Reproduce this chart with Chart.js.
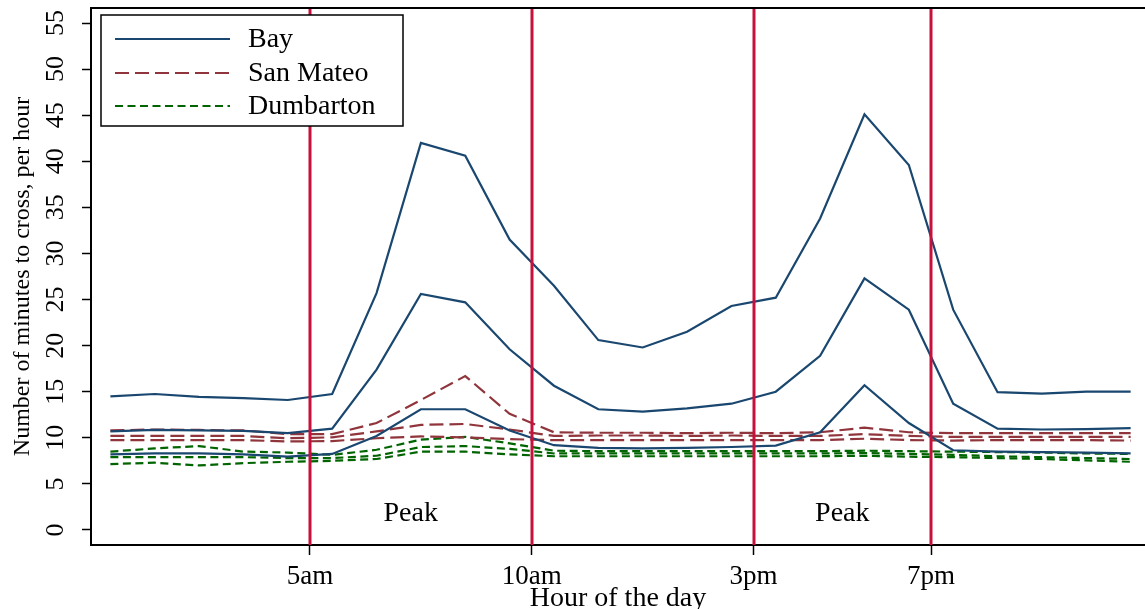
<!DOCTYPE html>
<html>
<head>
<meta charset="utf-8">
<script src="https://cdn.jsdelivr.net/npm/chart.js@4.4.1/dist/chart.umd.min.js"></script>
<style>
  html, body { margin: 0; padding: 0; background: #fff; }
  #contenedor { width: 1145px; height: 609px; }
</style>
</head>
<body>
<div id="contenedor"><canvas id="graficoCruce" width="1145" height="609"></canvas></div>
<script>
// Hora del día (mitad de cada franja horaria)
const horas = [0.5, 1.5, 2.5, 3.5, 4.5, 5.5, 6.5, 7.5, 8.5, 9.5, 10.5, 11.5,
               12.5, 13.5, 14.5, 15.5, 16.5, 17.5, 18.5, 19.5, 20.5, 21.5, 22.5, 23.5];

// Minutos para cruzar, por hora: tres curvas por puente
const bayAlto   = [14.5, 14.75, 14.45, 14.3, 14.1, 14.75, 25.7, 42.0, 40.6, 31.5, 26.5, 20.6,
                   19.8, 21.5, 24.3, 25.2, 33.8, 45.1, 39.6, 23.9, 14.95, 14.8, 15.0, 15.0];
const bayMedio  = [10.7, 10.85, 10.8, 10.75, 10.5, 11.0, 17.4, 25.6, 24.7, 19.6, 15.65, 13.1,
                   12.85, 13.2, 13.7, 15.0, 18.9, 27.3, 23.9, 13.7, 11.0, 10.9, 10.95, 11.05];
const bayBajo   = [8.2, 8.3, 8.3, 8.2, 7.95, 8.25, 10.2, 13.1, 13.1, 10.8, 9.2, 8.9,
                   8.85, 8.9, 9.0, 9.15, 10.6, 15.7, 11.6, 8.65, 8.5, 8.45, 8.4, 8.3];
const smAlto    = [10.8, 10.9, 10.85, 10.8, 10.4, 10.4, 11.6, 14.1, 16.7, 12.6, 10.6, 10.55,
                   10.55, 10.5, 10.55, 10.5, 10.6, 11.1, 10.6, 10.5, 10.5, 10.5, 10.5, 10.5];
const smMedio   = [10.2, 10.2, 10.2, 10.2, 9.95, 10.05, 10.7, 11.4, 11.5, 10.9, 10.2, 10.25,
                   10.25, 10.2, 10.25, 10.2, 10.2, 10.4, 10.2, 10.1, 10.1, 10.1, 10.1, 10.1];
const smBajo    = [9.75, 9.75, 9.75, 9.75, 9.6, 9.65, 9.95, 10.15, 10.05, 9.85, 9.75, 9.75,
                   9.75, 9.75, 9.75, 9.75, 9.75, 9.9, 9.75, 9.7, 9.75, 9.75, 9.75, 9.7];
const dbAlto    = [8.5, 8.85, 9.1, 8.5, 8.4, 8.15, 8.7, 9.8, 10.1, 9.4, 8.6, 8.55,
                   8.55, 8.55, 8.55, 8.55, 8.55, 8.6, 8.55, 8.5, 8.45, 8.4, 8.3, 8.25];
const dbMedio   = [7.9, 7.9, 7.9, 7.9, 7.8, 7.8, 8.05, 9.0, 9.1, 8.8, 8.3, 8.3,
                   8.3, 8.3, 8.3, 8.3, 8.3, 8.35, 8.25, 8.15, 8.0, 7.9, 7.8, 7.7];
const dbBajo    = [7.15, 7.3, 7.0, 7.25, 7.4, 7.5, 7.7, 8.5, 8.5, 8.2, 8.0, 8.0,
                   8.0, 8.0, 8.0, 8.0, 8.0, 8.05, 7.95, 7.9, 7.8, 7.7, 7.55, 7.4];

// Ejes, marcas y rótulos
const puentes = ['Bay', 'San Mateo', 'Dumbarton'];
const marcasX = [5, 10, 15, 19];
const etiquetasX = ['5am', '10am', '3pm', '7pm'];
const marcasY = [0, 5, 10, 15, 20, 25, 30, 35, 40, 45, 50, 55];
const limitesPico = [5, 10, 15, 19];
const textoPico = ['Peak', 'Peak'];
const posicionPicoX = [7.27, 17.0];
const posicionPicoY = 1.8;

const FUENTE = '"Liberation Serif", "Times New Roman", Times, serif';

// Estilo de línea para cada puente
const estilos = {
    'Bay':       { color: '#1a476f', guiones: [] },
    'San Mateo': { color: '#90353b', guiones: [14, 6] },
    'Dumbarton': { color: '#006400', guiones: [8, 4.5] }
};

function serie(puente, valores) {
    const e = estilos[puente];
    return {
        label: puente,
        data: horas.map((h, i) => ({ x: h, y: valores[i] })),
        borderColor: e.color,
        borderWidth: 2.2,
        borderDash: e.guiones,
        pointRadius: 0,
        tension: 0,
        fill: false
    };
}

// Líneas rojas de la franja punta, rótulos "Peak" y borde superior
const capaReferencia = {
    id: 'capaReferencia',
    afterDatasetsDraw(chart) {
        const { ctx, chartArea, scales: { x, y } } = chart;
        ctx.save();
        ctx.strokeStyle = '#c8103c';
        ctx.lineWidth = 3;
        limitesPico.forEach(v => {
            const px = Math.round(x.getPixelForValue(v));
            ctx.beginPath();
            ctx.moveTo(px, chartArea.top);
            ctx.lineTo(px, chartArea.bottom);
            ctx.stroke();
        });
        ctx.strokeStyle = '#000';
        ctx.lineWidth = 2;
        ctx.beginPath();
        ctx.moveTo(chartArea.left, chartArea.top);
        ctx.lineTo(chartArea.right, chartArea.top);
        ctx.stroke();

        ctx.fillStyle = '#000';
        ctx.font = '28px ' + FUENTE;
        ctx.textAlign = 'center';
        ctx.textBaseline = 'middle';
        textoPico.forEach((t, i) => {
            ctx.fillText(t, x.getPixelForValue(posicionPicoX[i]), y.getPixelForValue(posicionPicoY));
        });
        ctx.restore();
    },
    afterDraw(chart) {
        // Leyenda dentro del área del gráfico, con recuadro
        const { ctx } = chart;
        ctx.save();
        ctx.fillStyle = '#fff';
        ctx.fillRect(101, 15, 302, 111);
        ctx.strokeStyle = '#000';
        ctx.lineWidth = 1.5;
        ctx.strokeRect(101, 15, 302, 111);
        const filas = [39, 73, 106];
        puentes.forEach((p, i) => {
            const e = estilos[p];
            ctx.strokeStyle = e.color;
            ctx.lineWidth = 2.2;
            ctx.setLineDash(e.guiones);
            ctx.beginPath();
            ctx.moveTo(115, filas[i]);
            ctx.lineTo(230, filas[i]);
            ctx.stroke();
            ctx.setLineDash([]);
            ctx.fillStyle = '#000';
            ctx.font = '28px ' + FUENTE;
            ctx.textAlign = 'left';
            ctx.textBaseline = 'middle';
            ctx.fillText(p, 248, filas[i] + 1);
        });
        ctx.restore();
    }
};

const grafico = new Chart(document.getElementById('graficoCruce'), {
    type: 'line',
    data: {
        datasets: [
            serie('Bay', bayAlto), serie('Bay', bayMedio), serie('Bay', bayBajo),
            serie('San Mateo', smAlto), serie('San Mateo', smMedio), serie('San Mateo', smBajo),
            serie('Dumbarton', dbAlto), serie('Dumbarton', dbMedio), serie('Dumbarton', dbBajo)
        ]
    },
    options: {
        responsive: false,
        animation: false,
        layout: { padding: { top: 8, left: 0, right: 0, bottom: 0 } },
        plugins: { legend: { display: false }, tooltip: { enabled: false } },
        scales: {
            x: {
                type: 'linear',
                min: 0.063,
                max: 23.824,
                afterBuildTicks: s => { s.ticks = marcasX.map(v => ({ value: v })); },
                afterFit: s => { s.height = 64; s.paddingLeft = 0; s.paddingRight = 0; },
                border: { display: true, color: '#000', width: 2 },
                grid: { display: true, drawOnChartArea: false, drawTicks: true, tickLength: 10, tickWidth: 1.5, tickColor: '#000' },
                ticks: {
                    autoSkip: false, maxRotation: 0, padding: 6, color: '#000',
                    font: { family: FUENTE, size: 27 },
                    callback: (v, i) => etiquetasX[i]
                },
                title: {
                    display: true, text: 'Hour of the day', color: '#000',
                    font: { family: FUENTE, size: 28, lineHeight: 0.72 },
                    padding: { top: 0, bottom: 0 }
                }
            },
            y: {
                type: 'linear',
                min: -1.63,
                max: 56.63,
                afterBuildTicks: s => { s.ticks = marcasY.map(v => ({ value: v })); },
                afterFit: s => { s.width = 91; s.paddingTop = 0; s.paddingBottom = 0; },
                border: { display: true, color: '#000', width: 2 },
                grid: { display: true, drawOnChartArea: false, drawTicks: true, tickLength: 9, tickWidth: 1.5, tickColor: '#000' },
                ticks: {
                    minRotation: 90, maxRotation: 90, crossAlign: 'center', padding: 13, color: '#000',
                    font: { family: FUENTE, size: 26 }
                },
                title: {
                    display: true, text: 'Number of minutes to cross, per hour', color: '#000',
                    font: { family: FUENTE, size: 24 },
                    padding: { top: 8, bottom: 0 }
                }
            }
        }
    },
    plugins: [capaReferencia]
});
</script>
</body>
</html>
